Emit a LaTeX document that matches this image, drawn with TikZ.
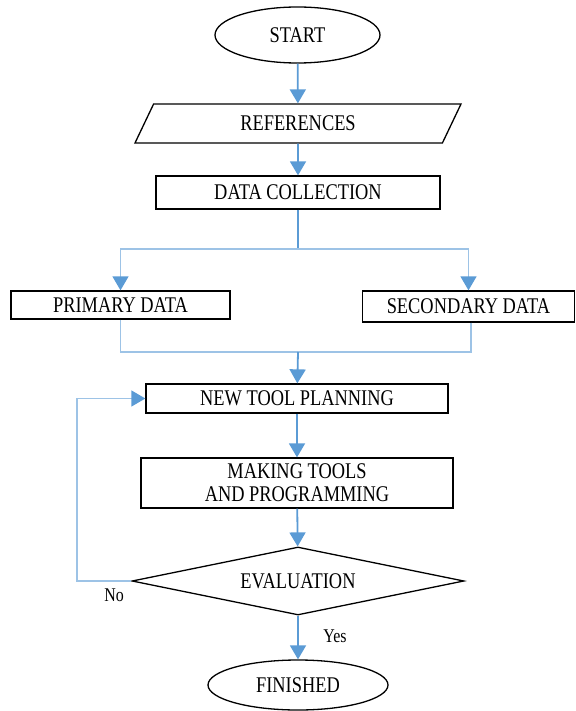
\documentclass[tikz,border=0pt]{standalone}
\usepackage{fontspec}
\setmainfont{Liberation Serif}[FakeStretch=0.82]
\usetikzlibrary{%
    arrows.meta,
    positioning,
    shapes.geometric
}

\definecolor{flowblue}{HTML}{5B9BD5}
\definecolor{paleblue}{HTML}{9DC3E6}

\tikzset{
    box/.style={draw, line width=1.3bp, rectangle, inner sep=0pt,
                font=\fontsize{22.5}{23}\selectfont, align=center},
    term/.style={box, ellipse},
    io/.style={box, trapezium, trapezium left angle=39,
               trapezium right angle=141, trapezium stretches body},
    decide/.style={box, diamond, aspect=4.9},
    tip/.style={-{Triangle[width=16bp,length=14bp,color=flowblue]}},
    mainline/.style={draw=flowblue, line width=1.8bp},
    thinline/.style={draw=paleblue, line width=1.3bp},
    answer/.style={font=\fontsize{19.5}{20}\selectfont}
}

\begin{document}
\begin{tikzpicture}[x=1bp, y=-1bp]
    \useasboundingbox (0,0) rectangle (576,711);

    \node (start) [term, minimum width=165bp, minimum height=56bp]
          at (297.5,35) {START};
    \node (refs)  [io, minimum width=326bp, minimum height=39bp]
          at (298,123.5) {REFERENCES};
    \node (coll)  [box, minimum width=284bp, minimum height=33bp]
          at (298,192.5) {DATA COLLECTION};
    \node (prim)  [box, minimum width=219bp, minimum height=28bp]
          at (120.5,305) {PRIMARY DATA};
    \node (sec)   [box, minimum width=212bp, minimum height=31bp]
          at (468.5,306.5) {SECONDARY DATA};
    \node (plan)  [box, minimum width=302bp, minimum height=29bp]
          at (297,398.5) {NEW TOOL PLANNING};
    \node (make)  [box, minimum width=312bp, minimum height=50bp]
          at (297,483) {MAKING TOOLS\\AND PROGRAMMING};
    \node (eval)  [decide, minimum width=332bp, minimum height=68bp]
          at (298,581) {EVALUATION};
    \node (fin)   [term, minimum width=180bp, minimum height=50bp]
          at (298,685) {FINISHED};

    \node (no)  [answer] at (114,595) {No};
    \node (yes) [answer] at (335,636) {Yes};

    \coordinate (split) at (298,249);
    \coordinate (join)  at (298,352);
    \coordinate (back)  at (77,581);

    % main line
    \draw[mainline, tip] (start) -- (refs);
    \draw[mainline, tip] (refs) -- (coll);
    \draw[mainline] (coll) -- (split);
    \draw[thinline, tip] (split) -| (prim);
    \draw[thinline, tip] (split) -| (sec);
    \draw[thinline] (prim) |- (join);
    \draw[thinline] (sec.south -| 471,0) |- (join);
    \draw[mainline, tip] (join) -- (plan);
    \draw[mainline, tip] (plan) -- (make);
    \draw[mainline, tip] (make) -- (eval);
    \draw[mainline, tip] (eval) -- (fin);

    % loop back
    \draw[thinline, tip] (eval.west) -- (back) |- (plan.west);
\end{tikzpicture}
\end{document}
